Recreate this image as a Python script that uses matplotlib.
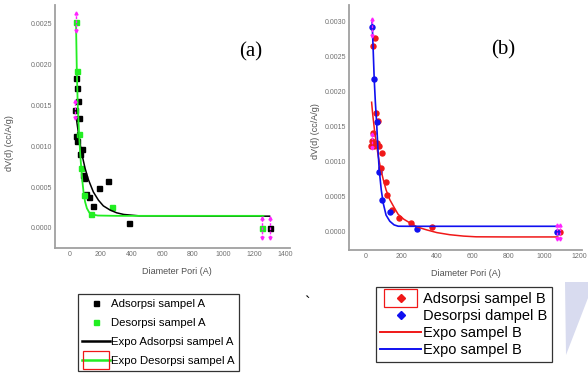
import numpy as np
import matplotlib
matplotlib.use('Agg')
import matplotlib.pyplot as plt
from matplotlib.lines import Line2D
from matplotlib.patches import Rectangle, Polygon

plt.rcParams['font.family'] = ['Liberation Sans', 'DejaVu Sans']

########################
# panel (a) - sampel A

# Adsorpsi sampel A (black squares)
adsA_x = [39, 43, 50, 33, 61, 39, 43, 76, 65, 83, 93, 104, 126, 152, 187, 246, 385, 1300]
adsA_y = [0.00183, 0.00171, 0.00155, 0.00144, 0.00135, 0.00112, 0.00107, 0.00096, 0.00090,
          0.00065, 0.00061, 0.00042, 0.00038, 0.00027, 0.00049, 0.00057, 0.00006, 0.0]

# Desorpsi sampel A (green squares)
desA_x = [39, 43, 59, 70, 93, 135, 276, 1250]
desA_y = [0.00252, 0.00192, 0.00115, 0.00073, 0.00040, 0.00017, 0.00026, 0.0]

# Expo Adsorpsi sampel A (curve)
fitadsA_x = [40, 45, 61, 80, 98, 120, 152, 185, 217, 260, 304, 350, 450, 900, 1300]
fitadsA_y = [0.00136, 0.00129, 0.00108, 0.00088, 0.00073, 0.00059, 0.00044, 0.00034,
             0.00027, 0.00022, 0.000185, 0.000165, 0.000148, 0.000144, 0.000144]

# Expo Desorpsi sampel A
fitdesA_x = [39, 44, 50, 59, 66, 72, 80, 88, 98, 110, 125, 145, 180, 300, 700, 1260]
fitdesA_y = [0.00252, 0.00195, 0.00152, 0.00115, 0.00092, 0.00076, 0.00058, 0.00044,
             0.00032, 0.00024, 0.00019, 0.000165, 0.000152, 0.000148, 0.000148, 0.000148]

# magenta error markers
errA_x = [39, 33, 1250, 1300]
errA_y = [0.00252, 0.00145, 0.0, 0.0]
errA_e = [0.00011, 0.0001, 0.00012, 0.00012]

########################
# panel (b) - sampel B

# Adsorpsi sampel B (red)
adsB_x = [39, 52, 58, 71, 43, 34, 30, 47, 62, 75, 95, 86, 112, 123, 151, 188, 254, 375, 1093]
adsB_y = [0.00265, 0.00277, 0.00169, 0.00158, 0.00141, 0.00130, 0.00122, 0.00122, 0.00127,
          0.00122, 0.00112, 0.00091, 0.00071, 0.00053, 0.00031, 0.000205, 0.000129,
          0.000067, 0.0]

# Desorpsi dampel B (blue)
desB_x = [37, 47, 62, 75, 93, 136, 291, 1075]
desB_y = [0.00292, 0.00218, 0.00157, 0.00086, 0.00046, 0.00028, 0.000048, 0.0]

# Expo sampel B (red)
fitadsB_x = [34, 40, 52, 62, 71, 85, 99, 115, 136, 160, 183, 215, 248, 290, 341, 400,
             472, 550, 620, 800, 1078]
fitadsB_y = [0.00185, 0.00168, 0.00141, 0.00124, 0.00108, 0.00090, 0.00075, 0.00060,
             0.00046, 0.00035, 0.00025, 0.00018, 0.00013, 0.00007, 0.00003, -0.00001,
             -0.00004, -0.00006, -0.00007, -0.000072, -0.000072]

# Expo sampel B (blue)
fitdesB_x = [37, 43, 48.5, 55, 62, 69, 76.5, 88, 99, 115, 136, 160, 183, 250, 1075]
fitdesB_y = [0.00299, 0.00258, 0.00218, 0.00185, 0.00156, 0.00120, 0.00089, 0.00060,
             0.00041, 0.00024, 0.000152, 0.000100, 0.000081, 0.000080, 0.000080]

errB_x = [37, 34, 1075, 1093]
errB_y = [0.00292, 0.0013, 0.0, 0.0]
errB_e = [0.00012, 0.0001, 0.0001, 0.0001]

########################

fig = plt.figure(figsize=(5.88, 3.73), dpi=100)

axA = fig.add_axes([0.0935, 0.335, 0.3997, 0.652])
axB = fig.add_axes([0.5935, 0.330, 0.396, 0.657])

green = '#22ee22'
red = '#f01818'
blue = '#1010f0'
mag = '#ff22ff'


def err_marks(ax, xs, ys, es):
    # dashed magenta bars with little arrow heads
    for x, y, e in zip(xs, ys, es):
        ax.plot([x, x], [y - e, y + e], color=mag, lw=1.0, ls=(0, (2, 1)), zorder=6)
        ax.plot([x], [y + e], marker='^', color=mag, ms=2.2, zorder=6)
        ax.plot([x], [y - e], marker='v', color=mag, ms=2.2, zorder=6)


# (a)
axA.plot(adsA_x, adsA_y, 's', color='black', ms=3.6, zorder=3)
axA.plot(desA_x, desA_y, 's', color=green, ms=3.6, zorder=4)
axA.plot(fitadsA_x, fitadsA_y, '-', color='black', lw=1.1, zorder=4)
axA.plot(fitdesA_x, fitdesA_y, '-', color=green, lw=1.3, zorder=5)
err_marks(axA, errA_x, errA_y, errA_e)

axA.set_xlim(-98, 1433)
axA.set_ylim(-0.000246, 0.00273)
axA.set_xticks(np.arange(0, 1401, 200))
axA.set_yticks(np.arange(0, 0.00251, 0.0005))

# (b)
axB.plot(adsB_x, adsB_y, 'o', color=red, ms=3.6, zorder=3)
axB.plot(desB_x, desB_y, 'o', color=blue, ms=3.6, zorder=3)
axB.plot(fitadsB_x, fitadsB_y, '-', color=red, lw=1.1, zorder=4)
axB.plot(fitdesB_x, fitdesB_y, '-', color=blue, lw=1.2, zorder=5)
err_marks(axB, errB_x, errB_y, errB_e)

axB.set_xlim(-93, 1213)
axB.set_ylim(-0.000257, 0.00324)
axB.set_xticks(np.arange(0, 1201, 200))
axB.set_yticks(np.arange(0, 0.00301, 0.0005))

for ax in (axA, axB):
    ax.spines['top'].set_visible(False)
    ax.spines['right'].set_visible(False)
    ax.spines['left'].set_color('#a0a0a0')
    ax.spines['bottom'].set_color('#a0a0a0')
    ax.spines['left'].set_linewidth(1.3)
    ax.spines['bottom'].set_linewidth(1.3)
    ax.tick_params(axis='both', length=0, pad=2, labelsize=5, labelcolor='#707070')
    ax.yaxis.set_major_formatter(matplotlib.ticker.FormatStrFormatter('%.4f'))
    ax.set_xlabel('Diameter Pori (A)', fontsize=6.5, color='#505050')
    ax.set_ylabel('dV(d) (cc/A/g)', fontsize=6.5, color='#505050')

axA.yaxis.set_label_coords(-0.174, 0.43)
axA.xaxis.set_label_coords(0.52, -0.078)
axB.yaxis.set_label_coords(-0.124, 0.486)
axB.xaxis.set_label_coords(0.50, -0.078)

fig.text(251 / 588, 1 - 52 / 373, '(a)', family='Liberation Serif', fontsize=15,
         ha='center', va='center')
fig.text(503 / 588, 1 - 50 / 373, '(b)', family='Liberation Serif', fontsize=15,
         ha='center', va='center')

########################
# legends

hA = [Line2D([], [], ls='none', marker='s', color='black', ms=3.6),
      Line2D([], [], ls='none', marker='s', color=green, ms=3.6),
      Line2D([], [], color='black', lw=1.8),
      Line2D([], [], color=green, lw=1.8)]
labA = ['Adsorpsi sampel A', 'Desorpsi sampel A', 'Expo Adsorpsi sampel A', 'Expo Desorpsi sampel A']
legA = fig.legend(hA, labA, loc='center', bbox_to_anchor=(158.5 / 588, 1 - 332.5 / 373),
                  fontsize=8.2, frameon=True, fancybox=False, edgecolor='black',
                  handlelength=2.4, handletextpad=0.1, labelspacing=0.8, borderpad=0.4)
legA.get_frame().set_linewidth(0.9)

hB = [Line2D([], [], ls='none', marker='D', color=red, ms=4),
      Line2D([], [], ls='none', marker='D', color=blue, ms=4),
      Line2D([], [], color=red, lw=1.4),
      Line2D([], [], color=blue, lw=1.4)]
labB = ['Adsorpsi sampel B', 'Desorpsi dampel B', 'Expo sampel B', 'Expo sampel B']
legB = fig.legend(hB, labB, loc='center', bbox_to_anchor=(464 / 588, 1 - 324.5 / 373),
                  fontsize=10.5, frameon=True, fancybox=False, edgecolor='black',
                  handlelength=2.8, handletextpad=0.15, labelspacing=0.22, borderpad=0.3)
legB.get_frame().set_linewidth(0.9)

# red boxes around one handle in each legend
fig.canvas.draw()
rend = fig.canvas.get_renderer()
for leg, i, half in ((legA, 3, 13), (legB, 0, 16.5)):
    bb = leg.legend_handles[i].get_window_extent(rend)
    xc = 0.5 * (bb.x0 + bb.x1)
    yc = 0.5 * (bb.y0 + bb.y1)
    fig.patches.append(Rectangle((xc - half, yc - 9), 2 * half, 18, fill=False,
                                 edgecolor=red, lw=0.9, transform=None, zorder=10))

# stray mark and watermark corner
fig.text(307 / 588, 1 - 303 / 373, '`', fontsize=12, ha='center', va='center')
fig.patches.append(Polygon([(565 / 588, 1 - 282 / 373), (588 / 588, 1 - 282 / 373),
                            (588 / 588, 1 - 298 / 373), (566 / 588, 1 - 355 / 373)],
                           closed=True, facecolor='#d8dbef', edgecolor='none',
                           transform=fig.transFigure))

plt.savefig('out.png', dpi=100)
plt.close()
